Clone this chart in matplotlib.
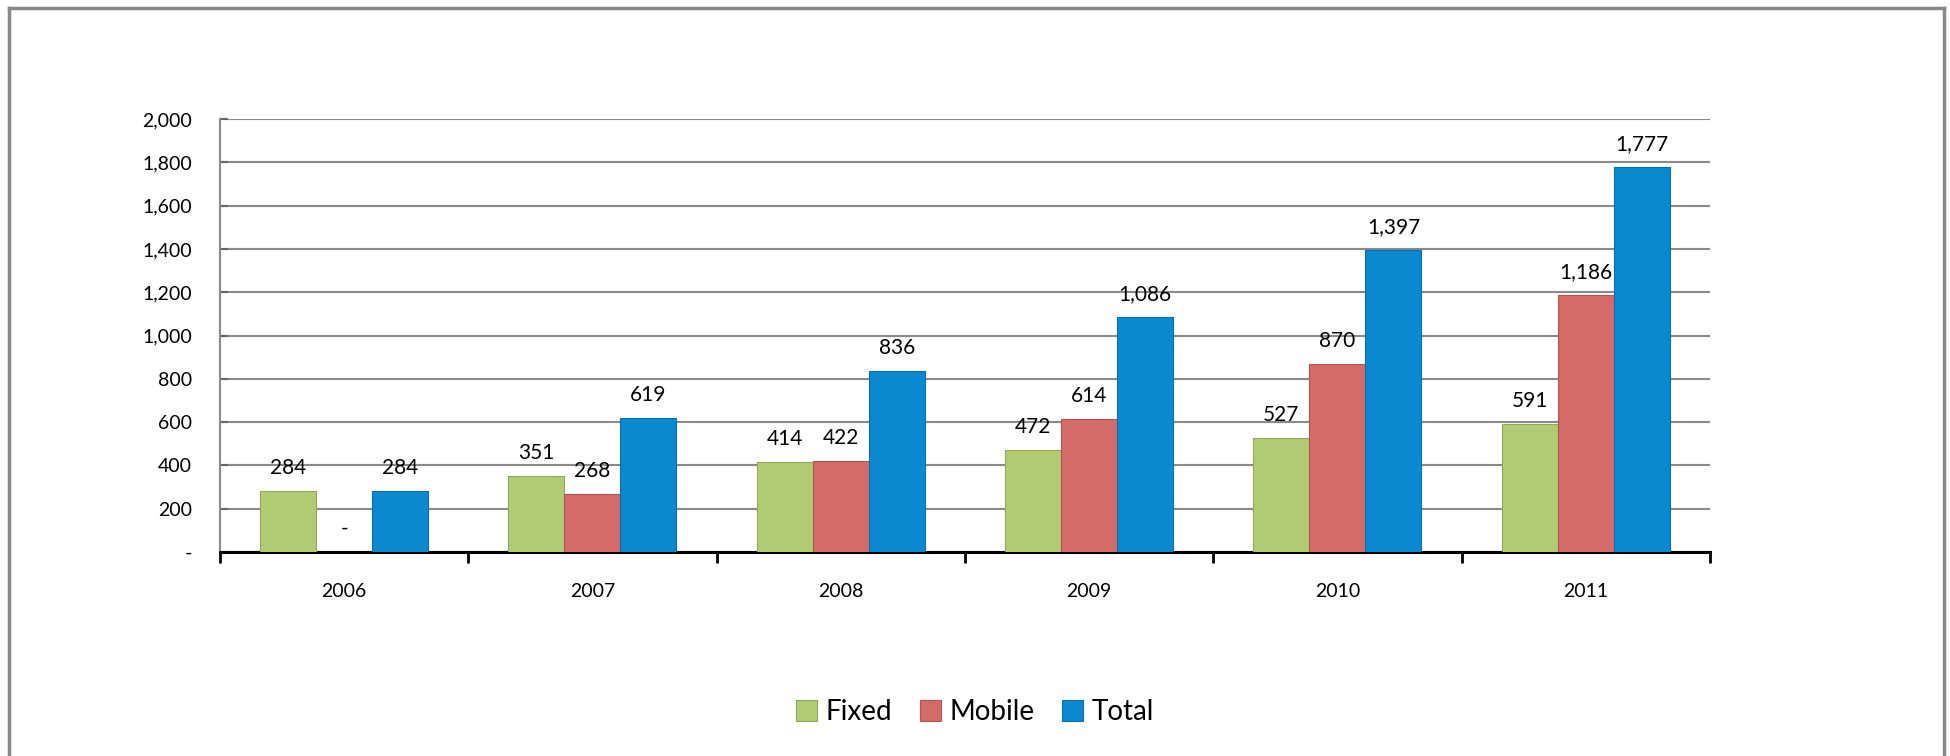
import numpy as np
import matplotlib.pyplot as plt
from matplotlib.lines import Line2D
from matplotlib.patches import Patch
from matplotlib.ticker import FuncFormatter

plt.rcParams['font.family'] = ['Lato', 'DejaVu Sans']

years = ["2006", "2007", "2008", "2009", "2010", "2011"]
fixed = [284, 351, 414, 472, 527, 591]
mobile = [0, 268, 422, 614, 870, 1186]
total = [284, 619, 836, 1086, 1397, 1777]
series_names = ["Fixed", "Mobile", "Total"]
colors = ["#B1CB74", "#D46B68", "#0A89D1"]
edges = ["#8FA85A", "#B05552", "#0A6FAA"]


def fmt(v):
    return "-" if v == 0 else f"{v:,.0f}"


def main():
    fig = plt.figure(figsize=(19.5, 7.56), dpi=100)
    ax = fig.add_axes([0.1128, 0.2698, 0.7641, 0.5728])

    x = np.arange(len(years))
    w = 0.2255
    for i, (vals, name) in enumerate(zip([fixed, mobile, total], series_names)):
        bars = ax.bar(x + (i - 1) * w, vals, width=w, color=colors[i],
                      edgecolor=edges[i], linewidth=0.8, label=name, zorder=3)
        for b, v in zip(bars, vals):
            ax.annotate(fmt(v), (b.get_x() + b.get_width() / 2, v),
                        xytext=(0, 16.5), textcoords="offset points",
                        ha="center", va="center", fontsize=15, color="black")

    ax.set_xlim(-0.5, 5.5)
    ax.set_ylim(0, 2000)
    ax.set_yticks(np.arange(0, 2001, 200))
    ax.yaxis.set_major_formatter(FuncFormatter(lambda v, p: fmt(v)))
    ax.grid(axis="y", color="#8a8a8a", lw=1.5, zorder=0)
    ax.set_axisbelow(True)

    ax.set_xticks(x)
    ax.set_xticklabels(years)
    ax.set_xticks(np.arange(-0.5, 6.0, 1.0), minor=True)
    ax.tick_params(axis="x", which="major", length=0, pad=22, labelsize=14)
    ax.tick_params(axis="x", which="minor", length=8, width=2, direction="out", color="black")
    ax.tick_params(axis="y", length=6, width=1.5, direction="in", color="#666666",
                   pad=20, labelsize=14)

    for s in ["top", "right"]:
        ax.spines[s].set_visible(False)
    ax.spines["left"].set_color("#8a8a8a")
    ax.spines["left"].set_linewidth(1.5)
    ax.spines["bottom"].set_color("black")
    ax.spines["bottom"].set_linewidth(2.2)

    handles = [Patch(facecolor=c, edgecolor=e, lw=0.8) for c, e in zip(colors, edges)]
    fig.legend(handles, series_names, loc="center", bbox_to_anchor=(0.5, 0.058),
               ncol=3, frameon=False, fontsize=20, handlelength=0.75, handleheight=0.75,
               handletextpad=0.3, columnspacing=1.0)

    # chart border
    for xs, ys in [([8.5 / 1950, 8.5 / 1950], [0, 1 - 7.5 / 756]),
                   ([8.5 / 1950, 1944 / 1950], [1 - 7.5 / 756, 1 - 7.5 / 756]),
                   ([1944 / 1950, 1944 / 1950], [1 - 7.5 / 756, 0])]:
        fig.add_artist(Line2D(xs, ys, color="#888888", lw=2.5, transform=fig.transFigure))

    fig.savefig("out.png", dpi=100, facecolor="white")


if __name__ == "__main__":
    main()
